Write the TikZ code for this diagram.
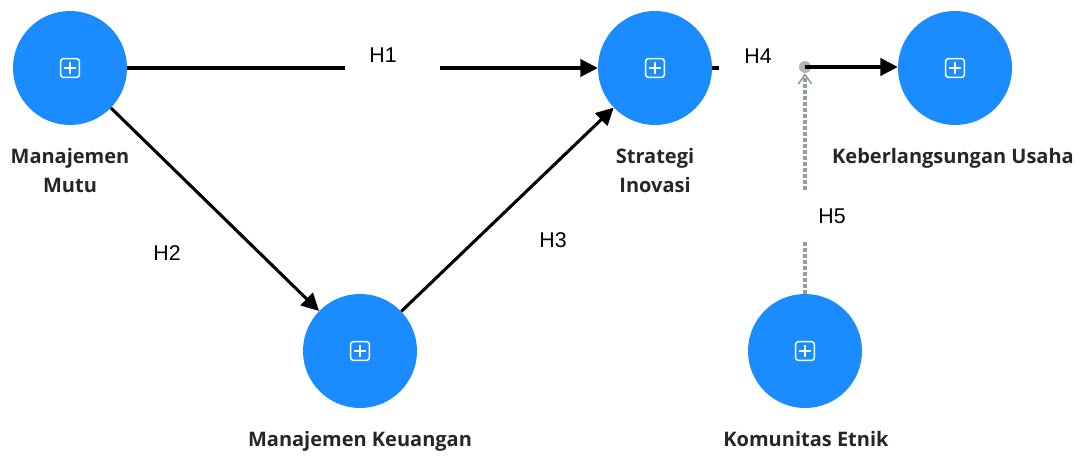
\documentclass[tikz,border=0pt]{standalone}
\usepackage{fontspec}
\setmainfont{Liberation Sans}
\newfontfamily\labfont{Open Sans}
\usetikzlibrary{arrows.meta}
\definecolor{nodeblue}{HTML}{1A8CFF}
\definecolor{modgrey}{HTML}{8FA28F}
\definecolor{dotgrey}{HTML}{B4B4B4}
\begin{document}
\begin{tikzpicture}[x=0.75pt,y=-0.75pt,
  lv/.style={circle, fill=nodeblue, minimum size=85.5pt, inner sep=0pt,
    path picture={
      \draw[white, line width=1.1pt, rounded corners=2pt]
        ([shift={(-7pt,-7pt)}]path picture bounding box.center) rectangle ++(14pt,14pt);
      \draw[white, line width=1.1pt]
        ([shift={(-4.5pt,0pt)}]path picture bounding box.center) -- ++(9pt,0pt);
      \draw[white, line width=1.1pt]
        ([shift={(0pt,-4.5pt)}]path picture bounding box.center) -- ++(0pt,9pt);
    }},
  vname/.style={font=\labfont\bfseries\fontsize{15}{21.5}\selectfont, text=black!85, align=center, inner sep=0pt},
  hlab/.style={font=\fontsize{16}{18}\selectfont, inner sep=0pt},
  edge/.style={line width=2.3pt, black},
  arr/.style={edge, -{Triangle[length=13pt,width=13pt]}},
  modline/.style={modgrey, line width=2.4pt, dash pattern=on 3pt off 1.5pt},
]
\useasboundingbox (0,0) rectangle (1080,456);

% latent variables
\node[lv] (mm) at (70,68) {};
\node[lv] (si) at (655,68) {};
\node[lv] (kb) at (955,68) {};
\node[lv] (mk) at (360,351) {};
\node[lv] (ke) at (805,351) {};

% names
\node[vname, anchor=north] (mmt) at (70,148) {Manajemen\\Mutu};
\node[vname, anchor=north] (sit) at (655,148) {Strategi\\Inovasi};
\node[vname, anchor=north] (kbt) at (953,148) {Keberlangsungan Usaha};
\node[vname, anchor=north] (mkt) at (360,431) {Manajemen Keuangan};
\node[vname, anchor=north] (ket) at (806,431) {Komunitas Etnik};

% gap coordinates
\coordinate (g1a) at (345,68);
\coordinate (g1b) at (440,68);
\coordinate (g4a) at (719,68);
\node[circle, fill=dotgrey, minimum size=9pt, inner sep=0pt] (dot) at (805,67) {};
\coordinate (g5a) at (805,296);
\coordinate (g5b) at (805,240);
\coordinate (g5c) at (805,190);

% paths
\draw[edge] (mm) -- (g1a);
\draw[arr] (g1b) -- (si);
\draw[arr] (mm) -- (mk);
\draw[arr] (mk) -- (si);
\draw[edge] (si.east) -- (g4a);
\draw[arr] (dot.center) -- (dot.center -| kb.west);
\draw[modline] (ke) -- (g5b);
\draw[modline, -{Straight Barb[length=7pt,width=10pt,line width=1.2pt]}] (g5c) -- (dot.south);

% hypothesis labels
\node[hlab] (h1) at (383,55) {H1};
\node[hlab] (h2) at (167,253) {H2};
\node[hlab] (h3) at (553,240) {H3};
\node[hlab] (h4) at (758,56) {H4};
\node[hlab] (h5) at (832,216) {H5};
\end{tikzpicture}
\end{document}
